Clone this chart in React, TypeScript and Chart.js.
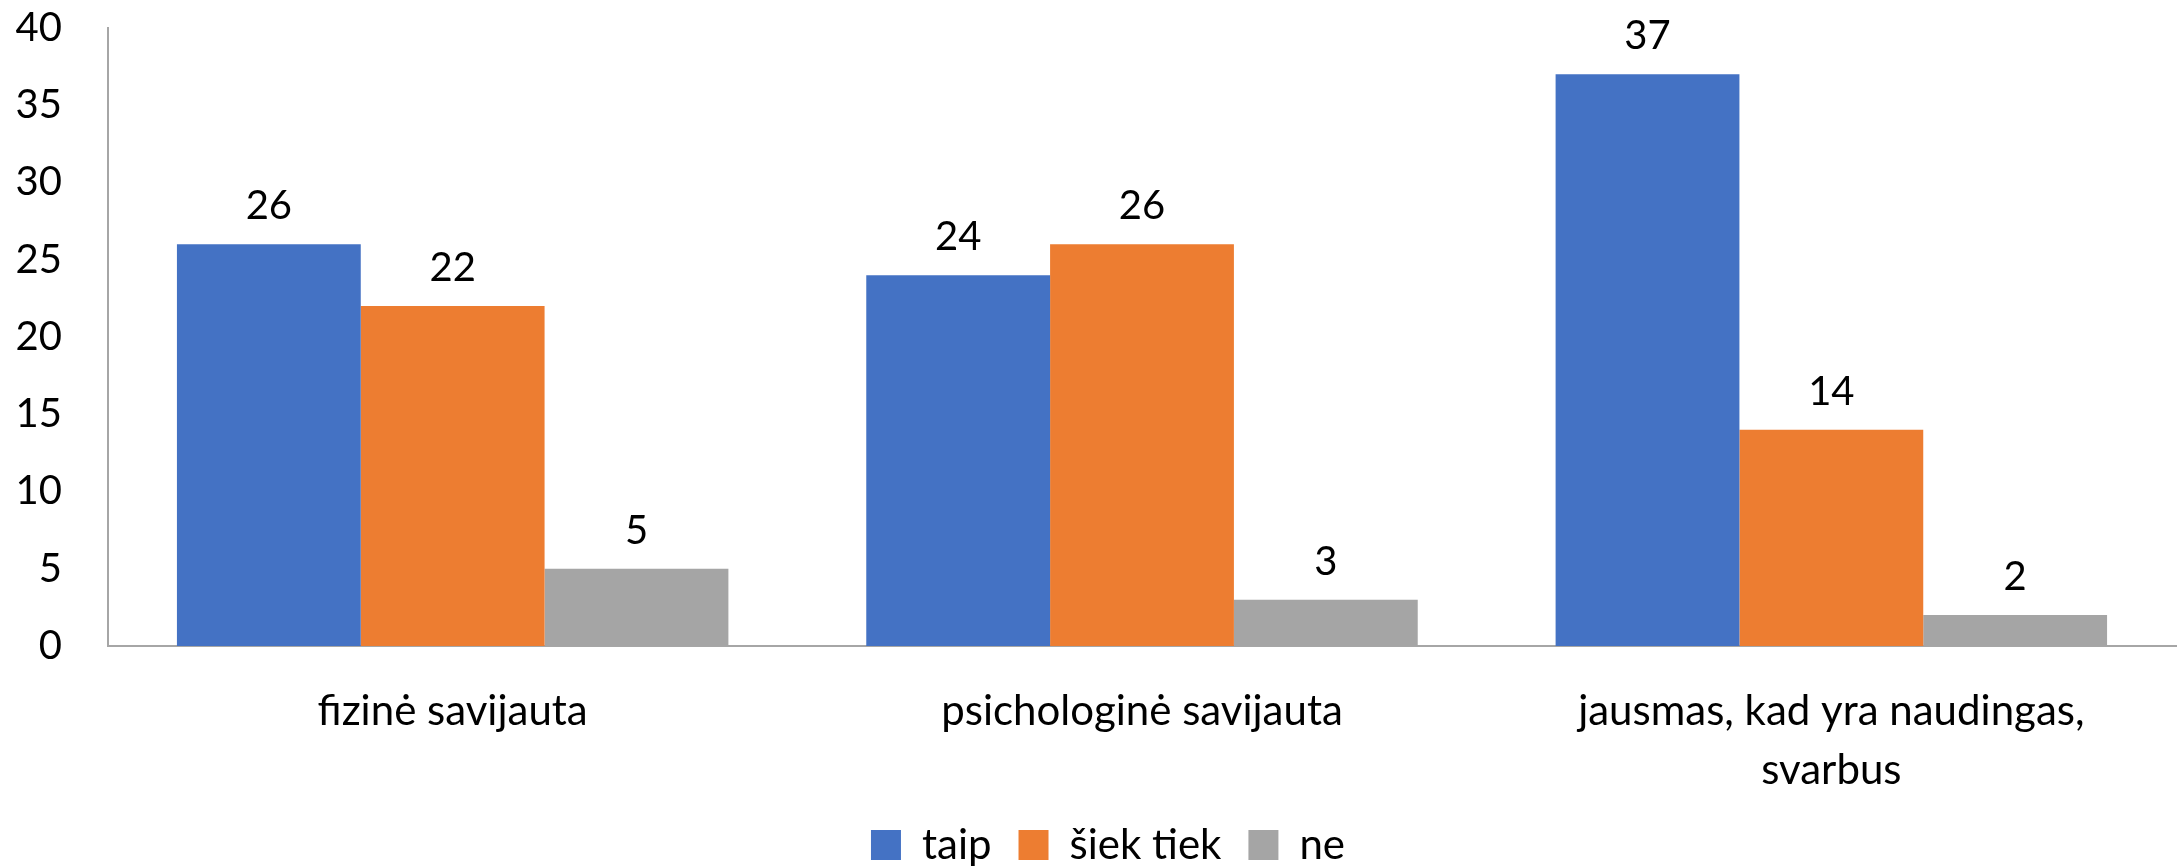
import React, { useEffect, useRef } from "react";
import { Chart, registerables } from "chart.js";

Chart.register(...registerables);

const categories: (string | string[])[] = [
  "fizinė savijauta",
  "psichologinė savijauta",
  ["jausmas, kad yra naudingas,", "svarbus"],
];
const seriesNames = ["taip", "šiek tiek", "ne"];
const taip = [26, 24, 37];
const siekTiek = [22, 26, 14];
const ne = [5, 3, 2];
const colors = ["#4472C4", "#ED7D31", "#A5A5A5"];
const yTicks = [0, 5, 10, 15, 20, 25, 30, 35, 40];

const FONT = "Lato, 'Open Sans', sans-serif";

const dataLabels = {
  id: "dataLabels",
  afterDatasetsDraw(chart: any) {
    const ctx = chart.ctx;
    ctx.save();
    ctx.font = `40px ${FONT}`;
    ctx.fillStyle = "#000";
    ctx.textAlign = "center";
    ctx.textBaseline = "middle";
    chart.data.datasets.forEach((ds: any, i: number) => {
      const meta = chart.getDatasetMeta(i);
      meta.data.forEach((el: any, j: number) => {
        ctx.fillText(String(ds.data[j]), el.x, el.y - 38);
      });
    });
    ctx.restore();
  },
};

const legendShift = {
  id: "legendShift",
  afterLayout(chart: any) {
    const lg = chart.legend;
    if (!lg) return;
    lg.left += 20;
    lg.right += 20;
    lg.top += 8;
    lg.bottom += 8;
  },
};

export default function App() {
  const ref = useRef<HTMLCanvasElement>(null);
  useEffect(() => {
    const chart = new Chart(ref.current!, {
      type: "bar",
      data: {
        labels: categories,
        datasets: [taip, siekTiek, ne].map((d, i) => ({
          label: seriesNames[i],
          data: d,
          backgroundColor: colors[i],
          borderWidth: 0,
          barPercentage: 1.0,
          categoryPercentage: 0.8,
        })),
      },
      options: {
        responsive: false,
        animation: false,
        layout: { padding: { top: 28, right: 2, left: 0, bottom: 0 } },
        plugins: {
          tooltip: { enabled: false },
          legend: {
            position: "bottom",
            labels: {
              font: { family: FONT, size: 42 },
              color: "#000",
              boxWidth: 30,
              boxHeight: 30,
              padding: 27,
            },
          },
        },
        scales: {
          x: {
            grid: { display: false, drawTicks: false },
            border: { display: true, color: "#A6A6A6", width: 2 },
            ticks: {
              font: { family: FONT, size: 42, lineHeight: 1.4 },
              color: "#000",
              padding: 36,
              maxRotation: 0,
              autoSkip: false,
            },
            afterFit: (s: any) => {
              s.height = 143;
            },
          },
          y: {
            min: 0,
            max: 40,
            afterBuildTicks: (s: any) => {
              s.ticks = yTicks.map((v) => ({ value: v }));
            },
            grid: { display: false, drawTicks: false },
            border: { display: true, color: "#A6A6A6", width: 2 },
            ticks: {
              font: { family: FONT, size: 40 },
              color: "#000",
              padding: 46,
            },
            afterFit: (s: any) => {
              s.width = 108;
              s.paddingTop = 0;
              s.paddingBottom = 0;
            },
          },
        },
      },
      plugins: [dataLabels, legendShift],
    });
    return () => chart.destroy();
  }, []);
  return (
    <div style={{ position: "fixed", left: 0, top: 0, width: 2178, height: 868, background: "#fff" }}>
      <canvas ref={ref} width={2178} height={868} style={{ width: 2178, height: 868 }} />
    </div>
  );
}
